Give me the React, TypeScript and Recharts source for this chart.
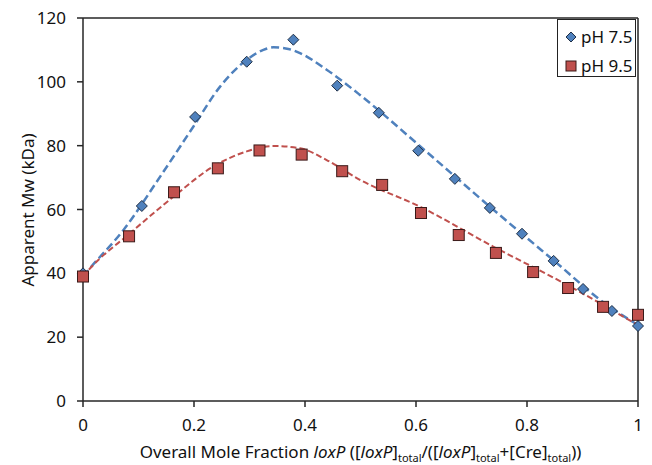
import React from 'react';
import { ComposedChart, Line, Scatter, XAxis, YAxis, ReferenceLine, Legend } from 'recharts';

// measured points
const ph75X = [0, 0.106, 0.202, 0.295, 0.379, 0.458, 0.533, 0.604, 0.67, 0.733, 0.791, 0.848, 0.901, 0.953, 1.0];
const ph75Y = [40, 61.1, 89.0, 106.3, 113.2, 98.8, 90.3, 78.4, 69.6, 60.5, 52.4, 43.9, 35.1, 28.2, 23.5];

const ph95X = [0, 0.083, 0.164, 0.243, 0.318, 0.394, 0.467, 0.539, 0.609, 0.677, 0.744, 0.811, 0.874, 0.937, 1.0];
const ph95Y = [39, 51.6, 65.4, 72.9, 78.5, 77.2, 72.0, 67.7, 58.9, 52.0, 46.4, 40.4, 35.4, 29.5, 27.0];

// fitted curves
const fit75X = [0, 0.013, 0.073, 0.139, 0.199, 0.247, 0.295, 0.325, 0.343, 0.37, 0.391, 0.439, 0.499, 0.601, 0.733, 0.847, 0.944, 1.0];
const fit75Y = [39, 41.7, 53.6, 70.3, 86, 98.5, 106.9, 110, 110.8, 110.3, 109, 103.8, 95.9, 80.8, 60.9, 44.2, 30.1, 23.8];

const fit95X = [0, 0.013, 0.085, 0.163, 0.235, 0.295, 0.343, 0.391, 0.439, 0.499, 0.607, 0.739, 0.872, 1.0];
const fit95Y = [39, 41.6, 52.6, 64, 73.5, 78.2, 79.9, 79.2, 75.5, 69.3, 60.9, 48.4, 36.4, 23.8];

const xTicks = [0, 0.2, 0.4, 0.6, 0.8, 1];
const yTicks = [0, 20, 40, 60, 80, 100, 120];

const toPoints = (xs: number[], ys: number[]) => xs.map((x, i) => ({ x, y: ys[i] }));

const FONT = '"Noto Sans", sans-serif';
const BLUE = '#4F81BD';
const RED = '#C0504D';

const Diamond = (props: any) => {
  const { cx, cy } = props;
  const r = 5.5;
  return (
    <path
      d={`M${cx},${cy - r}L${cx + r},${cy}L${cx},${cy + r}L${cx - r},${cy}Z`}
      fill={BLUE}
      stroke="#1F2F45"
      strokeWidth={1}
    />
  );
};

const Square = (props: any) => {
  const { cx, cy } = props;
  const s = 5.5;
  return <rect x={cx - s} y={cy - s} width={s * 2} height={s * 2} fill={RED} stroke="#3A1A19" strokeWidth={1} />;
};

const LegendBox = () => (
  <div
    style={{
      boxSizing: 'border-box',
      width: 79,
      height: 58,
      border: '1.5px solid #222',
      background: '#fff',
      padding: '2px 0 0 6px',
      fontFamily: FONT,
      fontSize: 17,
      color: '#111',
      lineHeight: '29px',
    }}
  >
    <div style={{ display: 'flex', alignItems: 'center', whiteSpace: 'nowrap' }}>
      <svg width={14} height={14} style={{ marginRight: 3 }}>
        <path d="M7,2L12,7L7,12L2,7Z" fill={BLUE} stroke="#1F2F45" />
      </svg>
      pH 7.5
    </div>
    <div style={{ display: 'flex', alignItems: 'center', whiteSpace: 'nowrap' }}>
      <svg width={14} height={14} style={{ marginRight: 3 }}>
        <rect x={2} y={2} width={10} height={10} fill={RED} stroke="#3A1A19" />
      </svg>
      pH 9.5
    </div>
  </div>
);

const XTitle = (props: any) => {
  const { viewBox } = props;
  const cx = viewBox.x + viewBox.width / 2;
  const y = 458;
  return (
    <text x={cx} y={y} textAnchor="middle" fontFamily={FONT} fontSize={17} fill="#111">
      <tspan>Overall Mole Fraction </tspan>
      <tspan fontStyle="italic">loxP</tspan>
      <tspan> ([</tspan>
      <tspan fontStyle="italic">loxP</tspan>
      <tspan>]</tspan>
      <tspan dy={4} fontSize={11}>total</tspan>
      <tspan dy={-4}>/([</tspan>
      <tspan fontStyle="italic">loxP</tspan>
      <tspan>]</tspan>
      <tspan dy={4} fontSize={11}>total</tspan>
      <tspan dy={-4}>+[Cre]</tspan>
      <tspan dy={4} fontSize={11}>total</tspan>
      <tspan dy={-4}>))</tspan>
    </text>
  );
};

const YTitle = () => (
  <text x={34} y={210} transform="rotate(-90, 34, 210)" textAnchor="middle" fontFamily={FONT} fontSize={17} fill="#111">
    Apparent Mw (kDa)
  </text>
);

export default function App() {
  const axisLine = { stroke: '#262626', strokeWidth: 1.5 };
  const tickStyle = { fontFamily: FONT, fontSize: 17, fill: '#111' };
  return (
    <div style={{ position: 'absolute', left: 0, top: 0, width: 652, height: 465 }}>
      <ComposedChart width={652} height={465} margin={{ top: 18, right: 14, bottom: 0, left: 0 }}>
        <XAxis
          type="number"
          dataKey="x"
          domain={[0, 1]}
          ticks={xTicks}
          tick={tickStyle}
          tickSize={6}
          tickMargin={12}
          axisLine={axisLine}
          tickLine={axisLine}
          height={64}
          label={<XTitle />}
        />
        <YAxis
          type="number"
          dataKey="y"
          domain={[0, 120]}
          ticks={yTicks}
          tick={tickStyle}
          tickSize={6}
          tickMargin={11}
          axisLine={axisLine}
          tickLine={axisLine}
          width={83}
          label={<YTitle />}
        />
        <ReferenceLine y={120} stroke="#262626" strokeWidth={1.5} />
        <ReferenceLine x={1} stroke="#262626" strokeWidth={1.5} />
        <Line
          data={toPoints(fit75X, fit75Y)}
          dataKey="y"
          type="monotone"
          stroke={BLUE}
          strokeWidth={2.5}
          strokeDasharray="8 4"
          dot={false}
          activeDot={false}
          isAnimationActive={false}
          legendType="none"
        />
        <Line
          data={toPoints(fit95X, fit95Y)}
          dataKey="y"
          type="monotone"
          stroke={RED}
          strokeWidth={2}
          strokeDasharray="6 3"
          dot={false}
          activeDot={false}
          isAnimationActive={false}
          legendType="none"
        />
        <Scatter name="pH 7.5" data={toPoints(ph75X, ph75Y)} dataKey="y" shape={<Diamond />} isAnimationActive={false} />
        <Scatter name="pH 9.5" data={toPoints(ph95X, ph95Y)} dataKey="y" shape={<Square />} isAnimationActive={false} />
        <Legend
          layout="vertical"
          align="center"
          verticalAlign="middle"
          content={<LegendBox />}
          wrapperStyle={{ top: 19, left: 557, width: 'auto', height: 'auto' }}
        />
      </ComposedChart>
    </div>
  );
}
